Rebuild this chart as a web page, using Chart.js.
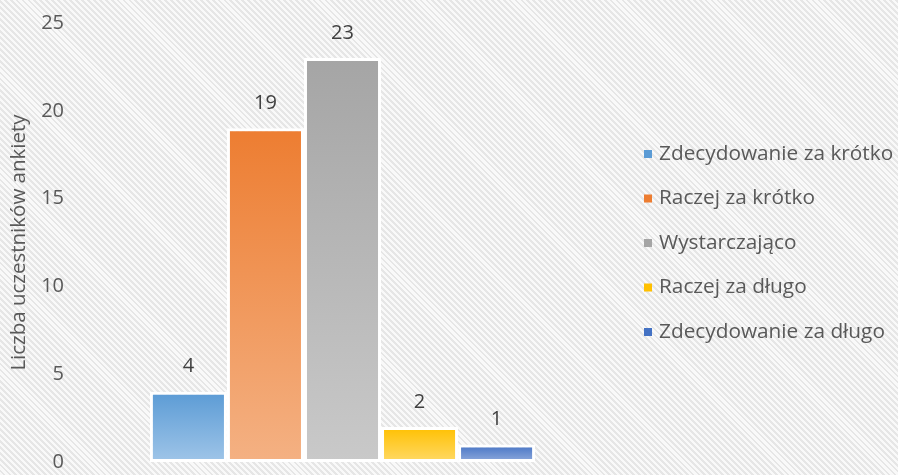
<!DOCTYPE html>
<html>
<head>
<meta charset="utf-8">
<script src="https://cdn.jsdelivr.net/npm/chart.js@4"></script>
<style>
  html, body { margin: 0; padding: 0; }
  body {
    width: 898px; height: 475px; overflow: hidden;
    background: repeating-linear-gradient(45deg, #f9f9f9 0px, #f9f9f9 2.2px, #e6e6e6 2.2px, #e6e6e6 4.2px);
  }
  #wrap { position: relative; width: 898px; height: 485px; }
</style>
</head>
<body>
<div id="wrap"><canvas id="c"></canvas></div>
<script>
var CATEGORIES = ['Zdecydowanie za krótko', 'Raczej za krótko', 'Wystarczająco', 'Raczej za długo', 'Zdecydowanie za długo'];
var VALUES = [4, 19, 23, 2, 1];
var TOP_COLORS = ['#5b9bd5', '#ed7d31', '#a5a5a5', '#ffc000', '#4472c4'];
var BOTTOM_COLORS = ['#9fc5e8', '#f4b183', '#c9c9c9', '#ffd966', '#8faadc'];
var Y_TICKS = [0, 5, 10, 15, 20, 25];
var Y_TITLE = 'Liczba uczestników ankiety';

var FONT = '"Open Sans", sans-serif';
var TEXT_COLOR = '#595959';

function gradientFor(i) {
  return function (ctx) {
    var chart = ctx.chart;
    var y = chart.scales && chart.scales.y;
    if (!y || !chart.chartArea) return TOP_COLORS[i];
    var top = y.getPixelForValue(VALUES[i]);
    var bottom = y.getPixelForValue(0);
    if (!isFinite(top) || !isFinite(bottom) || top === bottom) return TOP_COLORS[i];
    var g = chart.ctx.createLinearGradient(0, top, 0, bottom);
    g.addColorStop(0, TOP_COLORS[i]);
    g.addColorStop(1, BOTTOM_COLORS[i]);
    return g;
  };
}

var valueLabels = {
  id: 'valueLabels',
  afterDatasetsDraw: function (chart) {
    var c = chart.ctx;
    c.save();
    c.font = '20px ' + FONT;
    c.fillStyle = '#404040';
    c.textAlign = 'center';
    c.textBaseline = 'middle';
    chart.data.datasets.forEach(function (ds, i) {
      var bar = chart.getDatasetMeta(i).data[0];
      c.fillText(String(ds.data[0]), bar.x, bar.y - 25);
    });
    c.restore();
  }
};

var sideLegend = {
  id: 'sideLegend',
  afterDraw: function (chart) {
    var c = chart.ctx;
    c.save();
    c.font = '20.8px ' + FONT;
    c.textBaseline = 'middle';
    c.textAlign = 'left';
    chart.data.datasets.forEach(function (ds, i) {
      var y = 154 + i * 44.5;
      c.fillStyle = TOP_COLORS[i];
      c.fillRect(644, y - 4, 8, 8);
      c.fillStyle = TEXT_COLOR;
      c.fillText(ds.label, 659, y);
    });
    c.restore();
  }
};

var datasets = CATEGORIES.map(function (name, i) {
  return {
    label: name,
    data: [VALUES[i]],
    backgroundColor: gradientFor(i),
    borderColor: '#ffffff',
    borderWidth: 3,
    borderSkipped: false,
    categoryPercentage: 0.72,
    barPercentage: 1.0
  };
});

new Chart(document.getElementById('c'), {
  type: 'bar',
  data: { labels: [''], datasets: datasets },
  options: {
    responsive: true,
    maintainAspectRatio: false,
    animation: false,
    layout: { padding: { top: 13, bottom: 0, left: 0, right: 288 } },
    plugins: {
      legend: { display: false },
      tooltip: { enabled: false }
    },
    scales: {
      x: { display: false },
      y: {
        min: 0,
        max: 25,
        afterBuildTicks: function (axis) {
          axis.ticks = Y_TICKS.map(function (v) { return { value: v }; });
        },
        afterFit: function (axis) { axis.width = 75; },
        grid: { display: false, drawTicks: false },
        border: { display: false },
        ticks: { color: TEXT_COLOR, font: { family: FONT, size: 20 }, padding: 11 },
        title: { display: true, text: Y_TITLE, color: TEXT_COLOR, font: { family: FONT, size: 20.5 }, padding: { top: 7, bottom: 0 } }
      }
    }
  },
  plugins: [valueLabels, sideLegend]
});
</script>
</body>
</html>
